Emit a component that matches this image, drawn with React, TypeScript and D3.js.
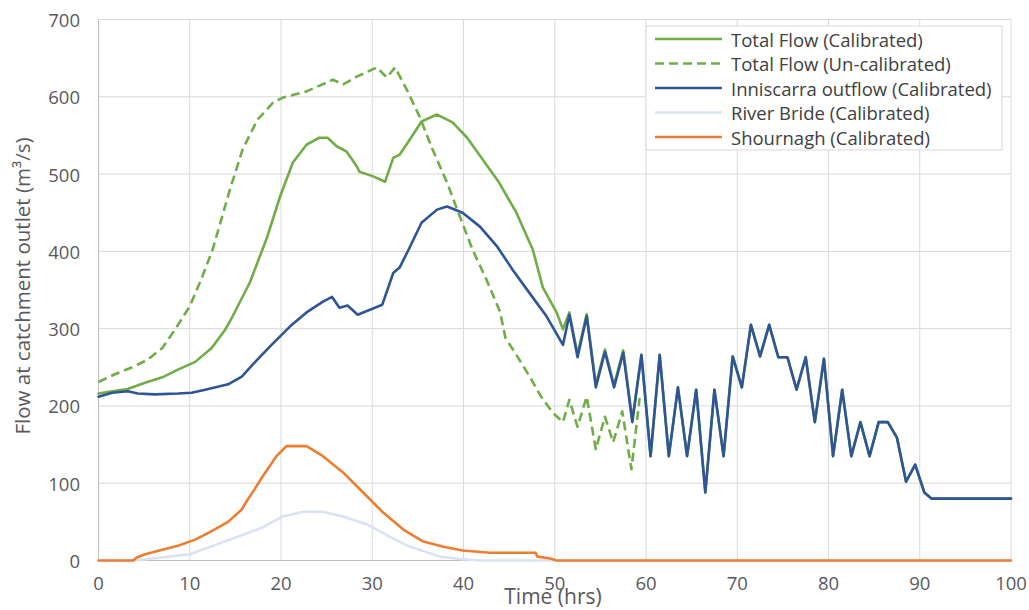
import React from "react";
import * as d3 from "d3";

// ---------- DATA ----------
const xTicks = [0, 10, 20, 30, 40, 50, 60, 70, 80, 90, 100];
const yTicks = [0, 100, 200, 300, 400, 500, 600, 700];

const legendLabels = [
  "Total Flow (Calibrated)",
  "Total Flow (Un-calibrated)",
  "Inniscarra outflow (Calibrated)",
  "River Bride (Calibrated)",
  "Shournagh (Calibrated)",
];

// Inniscarra outflow (Calibrated)
const inniscarraT = [
  0, 1.5, 3.2, 4.3, 6.2, 8.7, 10.2, 11.7, 14.2, 15.7, 17.1, 18.8, 21, 22.8, 24.6, 25.6, 26.4, 27.3, 28.4, 31.1,
  32.3, 33, 34.1, 35.4, 37.1, 38.2, 39.9, 41.8, 43.7, 45.4, 47.3, 49.1, 50.9,
  51.6, 52.5, 53.5, 54.5, 55.5, 56.5, 57.5, 58.5, 59.5, 60.5, 61.5, 62.5, 63.5, 64.5, 65.5, 66.5, 67.5, 68.5,
  69.5, 70.5, 71.5, 72.5, 73.5, 74.5, 75.5, 76.5, 77.5, 78.5, 79.5, 80.5, 81.5, 82.5, 83.5, 84.5, 85.5, 86.5,
  87.5, 88.5, 89.5, 90.5, 91.3, 100,
];
const inniscarraV = [
  212, 217, 219, 216, 215, 216, 217, 221, 228, 238, 256, 277, 303, 321, 335, 341, 327, 330, 318, 331,
  372, 379, 405, 437, 454, 458, 450, 432, 406, 376, 345, 316, 279,
  318, 263, 316, 224, 270, 224, 269, 179, 266, 135, 266, 135, 224, 135, 221, 88, 221, 135,
  264, 224, 305, 264, 305, 263, 263, 221, 263, 179, 261, 135, 221, 135, 179, 135, 179, 179,
  159, 102, 124, 88, 80, 80,
];

// Total Flow (Calibrated) up to t = 59.5; afterwards it coincides with the Inniscarra outflow
const totalCalHeadT = [
  0, 1.5, 3.2, 5.1, 7, 8.7, 10.6, 12.4, 13.9, 14.7, 16.6, 18.5, 19.9, 21.3, 22.8, 24.2, 25.1, 26.1, 27.2, 28.3,
  28.6, 30.1, 31.4, 32.3, 33, 34.3, 35.4, 37.1, 38.8, 40.4, 42.1, 43.9, 45.8, 47.6, 48.7, 50.2, 50.9,
  51.6, 52.5, 53.5, 54.5, 55.5, 56.5, 57.5, 58.5, 59.5,
];
const totalCalHeadV = [
  216, 219, 222, 230, 237, 247, 257, 275, 299, 316, 360, 419, 471, 515, 538, 547, 547, 536, 529, 510,
  503, 497, 490, 521, 525, 548, 568, 577, 567, 547, 519, 489, 450, 402, 353, 321, 299,
  321, 267, 319, 228, 273, 227, 272, 182, 266,
];

// Total Flow (Un-calibrated)
const totalUncalT = [
  0, 1.8, 3.7, 5.4, 7, 8.4, 10, 11.2, 12.5, 14.4, 15.8, 17.4, 19.1, 20.2, 22.8, 25.7, 26.8, 28.3, 30.5, 31.6,
  32.5, 33.8, 35.2, 36.6, 38.2, 39.6, 41, 42.5, 44, 44.6, 45.8, 47.3, 48.5, 49.8, 50.9,
  51.6, 52.5, 53.5, 54.5, 55.5, 56.4, 57.4, 58.4, 59.3,
];
const totalUncalV = [
  231, 241, 250, 260, 275, 299, 329, 362, 402, 480, 532, 570, 592, 599, 607, 622, 616, 626, 638, 625,
  638, 609, 574, 532, 489, 445, 402, 364, 322, 288, 266, 237, 212, 191, 179,
  208, 173, 212, 144, 186, 153, 193, 118, 210,
];

// River Bride (Calibrated)
const riverBrideT = [0, 3.8, 7, 10, 14.4, 18, 20.2, 22.4, 24.6, 26.8, 29.4, 31.9, 34.1, 37.4, 39.6, 42, 100];
const riverBrideV = [0, 0, 4, 8, 27, 43, 57, 63, 63, 57, 47, 31, 18, 5, 2, 0, 0];

// Shournagh (Calibrated)
const shournaghT = [
  0, 3.8, 4.2, 5.1, 7, 8.7, 10.6, 12.4, 14.2, 15.7, 16.3, 17.1, 18, 19.5, 20.6, 22.8, 24.6, 26.8, 29, 31.2,
  33.4, 35.5, 37.7, 39.9, 42.9, 47.9, 48.1, 49.4, 50.2, 100,
];
const shournaghV = [
  0, 0, 4, 8, 14, 19, 27, 38, 50, 66, 78, 92, 109, 135, 148, 148, 135, 114, 88, 62,
  40, 25, 18, 13, 10, 10, 5, 3, 0, 0,
];

// ---------- helpers ----------
type Pt = [number, number];
const zip = (t: number[], v: number[]): Pt[] => t.map((ti, i) => [ti, v[i]] as Pt);

const inniscarra = zip(inniscarraT, inniscarraV);
const totalCal = zip(totalCalHeadT, totalCalHeadV).concat(inniscarra.filter((p) => p[0] > 59.6));
const totalUncal = zip(totalUncalT, totalUncalV);
const riverBride = zip(riverBrideT, riverBrideV);
const shournagh = zip(shournaghT, shournaghV);

const GREEN = "#70AD47";
const BLUE = "#2F5597";
const LIGHTBLUE = "#DAE3F3";
const ORANGE = "#ED7D31";
const GRID = "#D9D9D9";
const TEXT = "#595959";
const FONT = "'Open Sans', 'DejaVu Sans', sans-serif";

const series = [
  { data: totalCal, color: GREEN, dash: undefined as string | undefined, width: 2.6 },
  { data: totalUncal, color: GREEN, dash: "9,5", width: 2.6 },
  { data: inniscarra, color: BLUE, dash: undefined, width: 2.6 },
  { data: riverBride, color: LIGHTBLUE, dash: undefined, width: 2.6 },
  { data: shournagh, color: ORANGE, dash: undefined, width: 2.6 },
];

export default function App() {
  const W = 1029;
  const H = 610;
  const x = d3.scaleLinear().domain([0, 100]).range([98.5, 1011]);
  const y = d3.scaleLinear().domain([0, 700]).range([560.5, 19.5]);
  const line = d3
    .line<Pt>()
    .x((d) => x(d[0]))
    .y((d) => y(d[1]))
    .curve(d3.curveLinear);

  const legX = 646;
  const legY = 26;
  const legRowY = (i: number) => 39 + i * 24.5;

  return (
    <svg
      width={W}
      height={H}
      style={{ position: "absolute", left: 0, top: 0, background: "#fff" }}
      fontFamily={FONT}
    >
      <rect x={0} y={0} width={W} height={H} fill="#fff" />
      {/* gridlines */}
      {yTicks.map((t) => (
        <line key={"gy" + t} x1={x(0)} x2={x(100)} y1={y(t)} y2={y(t)} stroke={GRID} strokeWidth={1} />
      ))}
      {xTicks.map((t) => (
        <line key={"gx" + t} x1={x(t)} x2={x(t)} y1={y(0)} y2={y(700)} stroke={GRID} strokeWidth={1} />
      ))}
      {/* axis lines */}
      <line x1={x(0)} x2={x(0)} y1={y(0)} y2={y(700)} stroke="#BFBFBF" strokeWidth={1} />
      <line x1={x(0)} x2={x(100)} y1={y(0)} y2={y(0)} stroke="#BFBFBF" strokeWidth={1} />

      {/* tick labels */}
      {yTicks.map((t) => (
        <text key={"ly" + t} x={80} y={y(t)} textAnchor="end" dominantBaseline="central" fontSize={18.5} fill={TEXT}>
          {t}
        </text>
      ))}
      {xTicks.map((t) => (
        <text key={"lx" + t} x={x(t)} y={582} textAnchor="middle" dominantBaseline="central" fontSize={18.5} fill={TEXT}>
          {t}
        </text>
      ))}

      {/* axis titles */}
      <text
        transform={`translate(22,${286}) rotate(-90)`}
        textAnchor="middle"
        dominantBaseline="central"
        fontSize={20.5}
        fill={TEXT}
      >
        Flow at catchment outlet (m³/s)
      </text>
      <text x={553} y={596} textAnchor="middle" dominantBaseline="central" fontSize={21} fill={TEXT}>
        Time (hrs)
      </text>

      {/* series */}
      {series.map((s, i) => (
        <path
          key={"s" + i}
          d={line(s.data) || ""}
          fill="none"
          stroke={s.color}
          strokeWidth={s.width}
          strokeDasharray={s.dash}
          strokeLinejoin="round"
          strokeLinecap={s.dash ? "butt" : "round"}
        />
      ))}

      {/* legend */}
      <rect x={legX} y={legY} width={356} height={124} fill="#fff" stroke={GRID} strokeWidth={1} />
      {series.map((s, i) => (
        <g key={"lg" + i}>
          <line
            x1={655}
            x2={722}
            y1={legRowY(i)}
            y2={legRowY(i)}
            stroke={s.color}
            strokeWidth={s.width}
            strokeDasharray={s.dash}
          />
          <text x={731} y={legRowY(i)} dominantBaseline="central" fontSize={18.5} fill="#404040">
            {legendLabels[i]}
          </text>
        </g>
      ))}
    </svg>
  );
}
